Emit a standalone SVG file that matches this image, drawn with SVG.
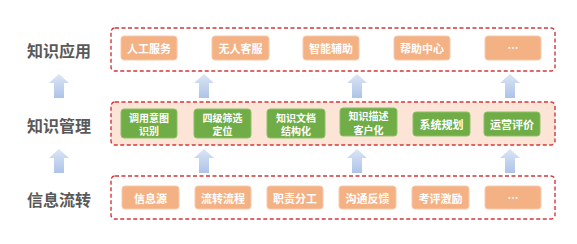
<svg xmlns="http://www.w3.org/2000/svg" width="577" height="244" viewBox="0 0 577 244">
<defs>
<linearGradient id="ag" x1="0" y1="0" x2="0" y2="1">
<stop offset="0" stop-color="#dbe5f5"/>
<stop offset="1" stop-color="#adc3e8"/>
</linearGradient>
<path id="arr" d="M0,0 L10,9 L5,9 L5,24 L-5,24 L-5,9 L-10,9 Z" fill="url(#ag)"/>
</defs>
<style>
.lbl{font-family:"Noto Sans CJK SC","Liberation Sans",sans-serif;font-size:16px;font-weight:bold;fill:#595959;text-anchor:middle;dominant-baseline:central}
.grp{fill:none;stroke:#d0383d;stroke-width:1.4;stroke-dasharray:4,2.5}
.grp2{fill:#fce4d6;stroke:#d0383d;stroke-width:1.4;stroke-dasharray:4,2.5}
.o rect{fill:#f4b183;stroke:#f8cbad;stroke-width:1}
.g rect{fill:#70ad47;stroke:#8cc168;stroke-width:1}
.o text,.g text{font-family:"Noto Sans CJK SC","Liberation Sans",sans-serif;font-size:11px;font-weight:bold;fill:#ffffff;text-anchor:middle;dominant-baseline:central}
.g text.s{font-size:10px}
</style>
<rect width="577" height="244" fill="#ffffff"/>
<g id="labels">
<text class="lbl" x="59" y="50">知识应用</text>
<text class="lbl" x="59" y="125">知识管理</text>
<text class="lbl" x="59" y="199">信息流转</text>
</g>
<g id="groups">
<rect class="grp" x="111" y="28" width="444" height="43" rx="4"/>
<rect class="grp2" x="111" y="102" width="444" height="43" rx="4"/>
<rect class="grp" x="111" y="176" width="444" height="43" rx="4"/>
</g>
<g id="connectors">
<use href="#arr" x="59" y="74"/>
<use href="#arr" x="204" y="74"/>
<use href="#arr" x="357" y="74"/>
<use href="#arr" x="510" y="74"/>
<use href="#arr" x="59" y="149"/>
<use href="#arr" x="204" y="149"/>
<use href="#arr" x="357" y="149"/>
<use href="#arr" x="510" y="149"/>
</g>
<g id="n-rgfw" class="o"><rect x="121" y="36" width="56" height="24" rx="3"/><text x="149" y="48">人工服务</text></g>
<g id="n-wrkf" class="o"><rect x="212" y="36" width="57" height="24" rx="3"/><text x="240.5" y="48">无人客服</text></g>
<g id="n-znfz" class="o"><rect x="303" y="36" width="56" height="24" rx="3"/><text x="331" y="48">智能辅助</text></g>
<g id="n-bzzx" class="o"><rect x="394" y="36" width="56" height="24" rx="3"/><text x="422" y="48">帮助中心</text></g>
<g id="n-more1" class="o"><rect x="485" y="36" width="56" height="24" rx="3"/><text x="513" y="47">…</text></g>
<g id="n-dyyt" class="g"><rect x="121" y="109" width="56" height="29" rx="3"/><text class="s" x="149" y="117">调用意图</text><text class="s" x="149" y="130.5">识别</text></g>
<g id="n-sjsx" class="g"><rect x="194" y="109" width="57" height="29" rx="3"/><text class="s" x="222.5" y="117">四级筛选</text><text class="s" x="222.5" y="130.5">定位</text></g>
<g id="n-zswd" class="g"><rect x="267" y="109" width="58" height="29" rx="3"/><text class="s" x="296" y="117">知识文档</text><text class="s" x="296" y="130.5">结构化</text></g>
<g id="n-zsms" class="g"><rect x="340" y="108" width="57" height="28" rx="3"/><text class="s" x="368.5" y="115.5">知识描述</text><text class="s" x="368.5" y="129">客户化</text></g>
<g id="n-xtgh" class="g"><rect x="413" y="112" width="57" height="24" rx="3"/><text x="441.5" y="124">系统规划</text></g>
<g id="n-yypj" class="g"><rect x="484" y="112" width="56" height="24" rx="3"/><text x="512" y="124">运营评价</text></g>
<g id="n-xxy" class="o"><rect x="122" y="186" width="57" height="23" rx="3"/><text x="150.5" y="197.5">信息源</text></g>
<g id="n-lzlc" class="o"><rect x="195" y="186" width="56" height="23" rx="3"/><text x="223" y="197.5">流转流程</text></g>
<g id="n-zzfg" class="o"><rect x="267" y="186" width="56" height="23" rx="3"/><text x="295" y="197.5">职责分工</text></g>
<g id="n-gtfk" class="o"><rect x="339" y="186" width="57" height="23" rx="3"/><text x="367.5" y="197.5">沟通反馈</text></g>
<g id="n-kpjl" class="o"><rect x="412" y="186" width="57" height="23" rx="3"/><text x="440.5" y="197.5">考评激励</text></g>
<g id="n-more2" class="o"><rect x="485" y="186" width="56" height="23" rx="3"/><text x="513" y="196.5">…</text></g>
</svg>
